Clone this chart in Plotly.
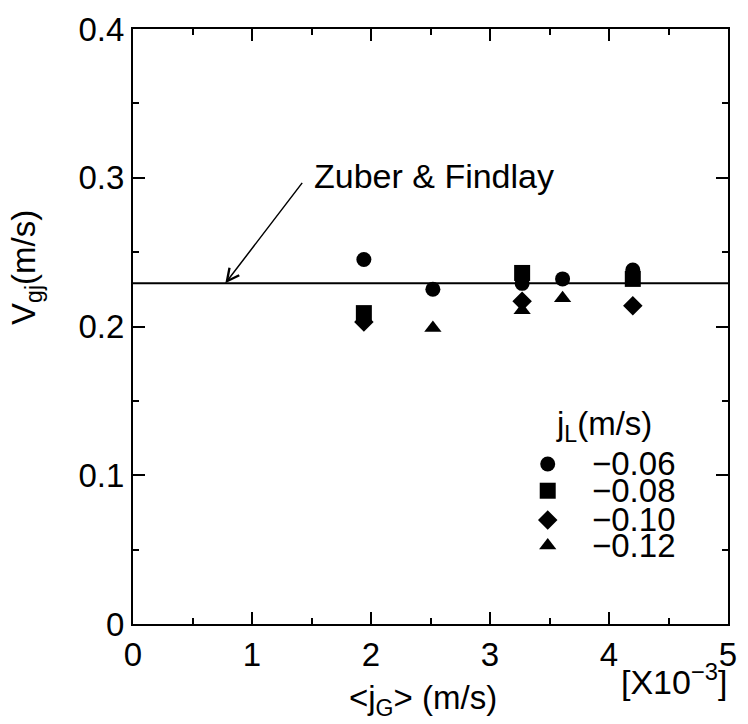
import plotly.graph_objects as go

# ---- data ----
series_names = ["\u22120.06", "\u22120.08", "\u22120.10", "\u22120.12"]
series_symbols = ["circle", "square", "diamond", "triangle-up"]
series_sizes = [15, 16, 15, 15]

jg_006 = [1.94, 2.52, 3.27, 3.61, 4.20]
vgj_006 = [0.245, 0.225, 0.229, 0.232, 0.238]

jg_008 = [1.94, 3.27, 4.20]
vgj_008 = [0.209, 0.236, 0.232]

jg_010 = [1.94, 3.27, 4.20]
vgj_010 = [0.203, 0.217, 0.214]

jg_012 = [2.52, 3.27, 3.61]
vgj_012 = [0.199, 0.211, 0.219]

zuber_x = [0, 5]
zuber_y = [0.229, 0.229]

x_ticks = [0, 1, 2, 3, 4, 5]
y_ticks = [0, 0.1, 0.2, 0.3, 0.4]
y_ticklabels = ["0", "0.1", "0.2", "0.3", "0.4"]

# legend placement (in an overlay axis with 0..1 range)
legend_y = [0.269, 0.224, 0.175, 0.132]

FONT = "Liberation Sans, Arial, sans-serif"
FS = 33

fig = go.Figure()

fig.add_trace(go.Scatter(x=zuber_x, y=zuber_y, mode="lines",
                         line=dict(color="black", width=2), showlegend=False,
                         hoverinfo="skip"))

all_x = [jg_006, jg_008, jg_010, jg_012]
all_y = [vgj_006, vgj_008, vgj_010, vgj_012]
for xs, ys, sym, sz, nm in zip(all_x, all_y, series_symbols, series_sizes, series_names):
    fig.add_trace(go.Scatter(x=xs, y=ys, mode="markers", name=nm,
                             marker=dict(symbol=sym, size=sz, color="black",
                                         line=dict(width=0)),
                             showlegend=False))

# custom legend markers on overlay axis
for ly, sym, sz in zip(legend_y, series_symbols, series_sizes):
    fig.add_trace(go.Scatter(x=[0.697], y=[ly], mode="markers", xaxis="x2", yaxis="y2",
                             marker=dict(symbol=sym, size=sz, color="black", line=dict(width=0)),
                             showlegend=False, hoverinfo="skip"))

annotations = []
for ly, nm in zip(legend_y, series_names):
    annotations.append(dict(x=0.768, y=ly, xref="x2", yref="y2", text=nm, showarrow=False,
                            xanchor="left", yanchor="middle",
                            font=dict(family=FONT, size=FS, color="black")))
annotations.append(dict(x=0.708, y=0.332, xref="x2", yref="y2",
                        text="j<sub>L</sub>(m/s)", showarrow=False,
                        xanchor="left", yanchor="middle",
                        font=dict(family=FONT, size=FS, color="black")))

# Zuber & Findlay label with arrow
annotations.append(dict(x=0.776, y=0.229, xref="x", yref="y",
                        ax=78, ay=-102, showarrow=True, arrowhead=5, arrowsize=1.6,
                        arrowwidth=1.5, arrowcolor="black", text="", standoff=0))
annotations.append(dict(x=1.505, y=0.3015, xref="x", yref="y",
                        text="Zuber &amp; Findlay", showarrow=False,
                        xanchor="left", yanchor="middle",
                        font=dict(family=FONT, size=34, color="black")))

# axis titles
annotations.append(dict(x=-0.18, y=0.6, xref="paper", yref="paper",
                        text="V<sub>gj</sub>(m/s)", showarrow=False, textangle=-90,
                        xanchor="center", yanchor="middle",
                        font=dict(family=FONT, size=FS, color="black")))
annotations.append(dict(x=0.488, y=-0.127, xref="paper", yref="paper",
                        text="&lt;j<sub>G</sub>&gt; (m/s)", showarrow=False,
                        xanchor="center", yanchor="middle",
                        font=dict(family=FONT, size=FS, color="black")))
annotations.append(dict(x=0.91, y=-0.093, xref="paper", yref="paper",
                        text="[X10<sup>\u22123</sup>]", showarrow=False,
                        xanchor="center", yanchor="middle",
                        font=dict(family=FONT, size=34, color="black")))

axis_common = dict(showline=True, linecolor="black", linewidth=2, mirror="ticks",
                   ticks="inside", tickcolor="black", tickwidth=2, ticklen=12,
                   showgrid=False, zeroline=False,
                   tickfont=dict(family=FONT, size=FS, color="black"))

fig.update_layout(
    width=748, height=724,
    margin=dict(l=133, r=11, t=24, b=100),
    paper_bgcolor="white", plot_bgcolor="white",
    xaxis=dict(range=[0, 5], tickvals=x_ticks, ticktext=[str(v) for v in x_ticks],
               minor=dict(ticks="inside", ticklen=6, tickwidth=1.5, tickcolor="black", dtick=0.5),
               **axis_common),
    yaxis=dict(range=[0, 0.4], tickvals=y_ticks, ticktext=y_ticklabels,
               minor=dict(ticks="inside", ticklen=6, tickwidth=1.5, tickcolor="black", dtick=0.05),
               **axis_common),
    xaxis2=dict(range=[0, 1], overlaying="x", visible=False),
    yaxis2=dict(range=[0, 1], overlaying="y", visible=False),
    annotations=annotations,
    showlegend=False,
)

fig.write_html("out.html")
